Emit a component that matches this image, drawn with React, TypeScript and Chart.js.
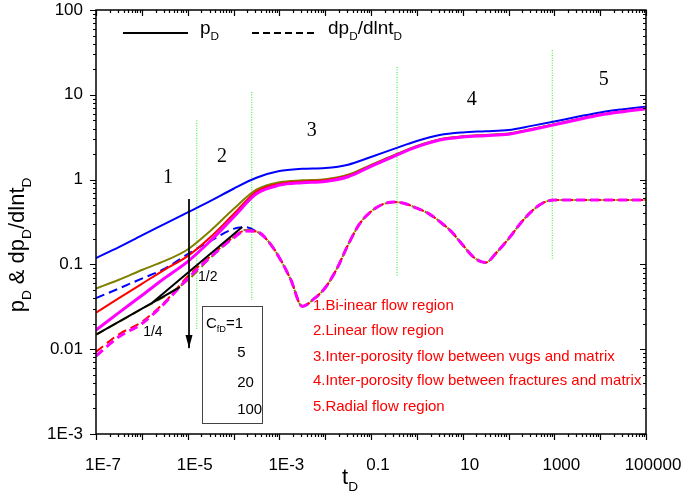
import React, { useEffect, useRef } from 'react';
import { Chart, registerables } from 'chart.js';

Chart.register(...registerables);

// ---------- data ----------
// dimensionless time for the pressure curves (half-decade grid)
const tD = [1e-7, 3.16e-7, 1e-6, 3.16e-6, 1e-5, 3.16e-5, 1e-4, 3.16e-4, 1e-3, 3.16e-3, 1e-2, 3.16e-2, 0.1, 0.316, 1, 3.16, 10, 31.6, 100, 316, 1000, 3162, 1e4, 3.16e4, 1e5];

const pD_C1 = [0.119, 0.16, 0.22, 0.30, 0.41, 0.56, 0.78, 1.05, 1.26, 1.34, 1.37, 1.50, 1.85, 2.30, 2.85, 3.35, 3.60, 3.72, 3.85, 4.30, 4.85, 5.50, 6.20, 6.75, 7.25];
const pD_C5 = [0.052, 0.066, 0.086, 0.11, 0.15, 0.25, 0.45, 0.76, 0.93, 0.98, 1.01, 1.14, 1.49, 1.94, 2.49, 2.99, 3.24, 3.36, 3.49, 3.94, 4.49, 5.14, 5.84, 6.39, 6.89];
const pD_C20 = [0.027, 0.040, 0.059, 0.087, 0.125, 0.21, 0.39, 0.72, 0.89, 0.95, 0.98, 1.11, 1.46, 1.91, 2.46, 2.96, 3.21, 3.33, 3.46, 3.91, 4.46, 5.11, 5.81, 6.36, 6.86];
const pD_C100 = [0.0168, 0.027, 0.043, 0.069, 0.108, 0.19, 0.36, 0.68, 0.86, 0.92, 0.95, 1.08, 1.43, 1.88, 2.43, 2.93, 3.18, 3.30, 3.43, 3.88, 4.43, 5.08, 5.78, 6.33, 6.83];

// dimensionless time for the derivative curves (finer in the humps)
const tDeriv = [1e-7, 3.16e-7, 1e-6, 3.16e-6, 1e-5, 3.16e-5, 1e-4, 1.78e-4, 3.16e-4, 5.62e-4, 1e-3, 1.78e-3, 3.16e-3, 5.62e-3, 1e-2, 1.78e-2, 3.16e-2, 5.62e-2, 0.1, 0.178, 0.316, 0.562, 1, 1.78, 3.16, 5.62, 10, 17.8, 31.6, 56.2, 100, 178, 316, 562, 1000, 3162, 1e4, 3.16e4, 1e5];

const dpD_C1 = [0.040, 0.052, 0.068, 0.089, 0.132, 0.19, 0.262, 0.275, 0.245, 0.19, 0.12, 0.066, 0.032, 0.039, 0.053, 0.088, 0.17, 0.30, 0.42, 0.51, 0.545, 0.52, 0.46, 0.40, 0.32, 0.245, 0.17, 0.12, 0.105, 0.14, 0.20, 0.30, 0.42, 0.53, 0.575, 0.575, 0.575, 0.575, 0.575];
const dpD_C5 = [0.0148, 0.021, 0.030, 0.042, 0.065, 0.12, 0.21, 0.255, 0.245, 0.19, 0.12, 0.066, 0.032, 0.039, 0.053, 0.088, 0.17, 0.30, 0.42, 0.51, 0.545, 0.52, 0.46, 0.40, 0.32, 0.245, 0.17, 0.12, 0.105, 0.14, 0.20, 0.30, 0.42, 0.53, 0.575, 0.575, 0.575, 0.575, 0.575];
const dpD_C20 = [0.0093, 0.015, 0.021, 0.036, 0.072, 0.125, 0.21, 0.25, 0.245, 0.19, 0.12, 0.066, 0.032, 0.039, 0.053, 0.088, 0.17, 0.30, 0.42, 0.51, 0.545, 0.52, 0.46, 0.40, 0.32, 0.245, 0.17, 0.12, 0.105, 0.14, 0.20, 0.30, 0.42, 0.53, 0.575, 0.575, 0.575, 0.575, 0.575];
const dpD_C100 = [0.0083, 0.014, 0.020, 0.035, 0.068, 0.122, 0.205, 0.248, 0.245, 0.19, 0.12, 0.066, 0.032, 0.039, 0.053, 0.088, 0.17, 0.30, 0.42, 0.51, 0.545, 0.52, 0.46, 0.40, 0.32, 0.245, 0.17, 0.12, 0.105, 0.14, 0.20, 0.30, 0.42, 0.53, 0.575, 0.575, 0.575, 0.575, 0.575];

// straight reference lines (slope 1/4 and 1/2)
const quarterT = [1.05e-7, 6.8e-6];
const quarterV = [0.0151, 0.054];
const halfT = [1.66e-6, 1.55e-4];
const halfV = [0.035, 0.276];

// arrow (increasing CfD)
const arrowT = [1.07e-5, 1.07e-5];
const arrowV = [0.59, 0.0103];

// green dotted region separators
const sepT = [1.58e-5, 2.5e-4, 0.37, 900];
const sepTop = [5.0, 10.8, 21.3, 33.7];
const sepBottom = [0.0168, 0.038, 0.071, 0.116];

// region numbers
const regionLabels = ['1', '2', '3', '4', '5'];
const regionT = [3.7e-6, 5.6e-5, 5.1e-3, 15.8, 1.2e4];
const regionV = [1.04, 1.85, 3.73, 8.7, 14.9];

// slope labels
const slopeLabels = ['1/2', '1/4'];
const slopeT = [2.75e-5, 1.74e-6];
const slopeV = [0.071, 0.0159];

// CfD box
const boxT = [2.03e-5, 4.2e-4];
const boxV = [0.00135, 0.0324];
const cfdValues = ['5', '20', '100'];
const cfdT = 1.2e-4;
const cfdV = [0.0090, 0.0040, 0.00192];

// red notes
const notes = [
  '1.Bi-inear flow region',
  '2.Linear flow region',
  '3.Inter-porosity flow between vugs and matrix',
  '4.Inter-porosity flow between fractures and matrix',
  '5.Radial flow region',
];
const noteT = 5.4e-3;
const noteV = [0.0324, 0.0164, 0.0081, 0.0042, 0.00208];

// axes
const xTickValues = [1e-7, 1e-5, 1e-3, 0.1, 10, 1000, 100000];
const xTickLabels = ['1E-7', '1E-5', '1E-3', '0.1', '10', '1000', '100000'];
const yTickValues = [1e-3, 0.01, 0.1, 1, 10, 100];
const yTickLabels = ['1E-3', '0.01', '0.1', '1', '10', '100'];

const SANS = '"Liberation Sans", Arial, sans-serif';
const SERIF = '"Liberation Serif", "Times New Roman", serif';

const BLUE = '#0000ff';
const OLIVE = '#808000';
const RED = '#ff0000';
const MAGENTA = '#ff00ff';
const GREEN = '#22ee22';

const pts = (xs: number[], ys: number[]) => xs.map((x, i) => ({ x, y: ys[i] }));

function drawRich(
  ctx: CanvasRenderingContext2D,
  parts: Array<[string, boolean]>,
  x: number,
  y: number,
  size: number,
  color: string,
  align: 'left' | 'center' = 'left'
) {
  const sub = size * 0.62;
  const widths = parts.map(([s, isSub]) => {
    ctx.font = `${isSub ? sub : size}px ${SANS}`;
    return ctx.measureText(s).width;
  });
  const total = widths.reduce((a, b) => a + b, 0);
  let cx = align === 'center' ? x - total / 2 : x;
  ctx.fillStyle = color;
  ctx.textAlign = 'left';
  ctx.textBaseline = 'alphabetic';
  parts.forEach(([s, isSub], i) => {
    ctx.font = `${isSub ? sub : size}px ${SANS}`;
    ctx.fillText(s, cx, isSub ? y + size * 0.3 : y);
    cx += widths[i];
  });
}

const decorPlugin = {
  id: 'decor',
  afterDatasetsDraw(chart: any) {
    const { ctx, chartArea: a } = chart;
    const xs = chart.scales.x;
    const ys = chart.scales.y;
    const px = (t: number) => xs.getPixelForValue(t);
    const py = (v: number) => ys.getPixelForValue(v);
    ctx.save();

    // arrowhead
    {
      const tx = px(arrowT[1]);
      const ty = py(arrowV[1]);
      ctx.fillStyle = '#000';
      ctx.beginPath();
      ctx.moveTo(tx, ty);
      ctx.lineTo(tx - 3.5, ty - 13);
      ctx.lineTo(tx + 3.5, ty - 13);
      ctx.closePath();
      ctx.fill();
    }

    // region numbers
    ctx.fillStyle = '#000';
    ctx.font = `20px ${SERIF}`;
    ctx.textAlign = 'center';
    ctx.textBaseline = 'middle';
    regionLabels.forEach((s, i) => ctx.fillText(s, px(regionT[i]), py(regionV[i])));

    // slope labels
    ctx.font = `14px ${SANS}`;
    slopeLabels.forEach((s, i) => ctx.fillText(s, px(slopeT[i]), py(slopeV[i])));

    // CfD box
    {
      const x0 = px(boxT[0]);
      const x1 = px(boxT[1]);
      const y0 = py(boxV[1]);
      const y1 = py(boxV[0]);
      ctx.fillStyle = '#fff';
      ctx.fillRect(x0, y0, x1 - x0, y1 - y0);
      ctx.strokeStyle = '#444';
      ctx.lineWidth = 1;
      ctx.strokeRect(Math.round(x0) + 0.5, Math.round(y0) + 0.5, Math.round(x1 - x0), Math.round(y1 - y0));
      drawRich(ctx, [['C', false], ['fD', true], ['=1', false]], px(2.5e-5), py(0.0204) + 5, 15, '#000');
      ctx.fillStyle = '#000';
      ctx.font = `15px ${SANS}`;
      ctx.textAlign = 'left';
      ctx.textBaseline = 'middle';
      cfdValues.forEach((s, i) => ctx.fillText(s, px(cfdT), py(cfdV[i])));
    }

    // red notes
    ctx.fillStyle = RED;
    ctx.font = `15px ${SANS}`;
    ctx.textAlign = 'left';
    ctx.textBaseline = 'middle';
    notes.forEach((s, i) => ctx.fillText(s, px(noteT), py(noteV[i])));

    // legend
    {
      const ly = a.top + 23;
      ctx.strokeStyle = '#000';
      ctx.lineWidth = 2;
      ctx.setLineDash([]);
      ctx.beginPath();
      ctx.moveTo(a.left + 27, ly);
      ctx.lineTo(a.left + 92, ly);
      ctx.stroke();
      drawRich(ctx, [['p', false], ['D', true]], a.left + 104, ly + 1, 19, '#000');
      ctx.setLineDash([7, 4]);
      ctx.beginPath();
      ctx.moveTo(a.left + 156, ly);
      ctx.lineTo(a.left + 222, ly);
      ctx.stroke();
      ctx.setLineDash([]);
      drawRich(ctx, [['dp', false], ['D', true], ['/dlnt', false], ['D', true]], a.left + 232, ly + 1, 19, '#000');
    }

    // frame
    ctx.strokeStyle = '#000';
    ctx.lineWidth = 1.5;
    ctx.strokeRect(a.left, a.top, a.right - a.left, a.bottom - a.top);

    // tick marks
    ctx.lineWidth = 1.2;
    ctx.beginPath();
    for (let d = -7; d <= 5; d++) {
      for (let k = 1; k <= 9; k++) {
        const v = k * Math.pow(10, d);
        if (v > 1e5 * 1.0001) break;
        const X = Math.round(px(v)) + 0.5;
        const len = k === 1 ? 6 : 3;
        ctx.moveTo(X, a.bottom);
        ctx.lineTo(X, a.bottom + len);
        ctx.moveTo(X, a.top);
        ctx.lineTo(X, a.top + len);
      }
    }
    for (let d = -3; d <= 2; d++) {
      for (let k = 1; k <= 9; k++) {
        const v = k * Math.pow(10, d);
        if (v > 100 * 1.0001) break;
        const Y = Math.round(py(v)) + 0.5;
        const len = k === 1 ? 6 : 3;
        ctx.moveTo(a.left, Y);
        ctx.lineTo(a.left - len, Y);
        ctx.moveTo(a.right, Y);
        ctx.lineTo(a.right - len, Y);
      }
    }
    ctx.stroke();

    // axis titles
    drawRich(ctx, [['t', false], ['D', true]], 350, 484, 22, '#000', 'center');
    ctx.translate(24, 245);
    ctx.rotate(-Math.PI / 2);
    drawRich(
      ctx,
      [['p', false], ['D', true], [' & dp', false], ['D', true], ['/dlnt', false], ['D', true]],
      0,
      0,
      22,
      '#000',
      'center'
    );
    ctx.restore();
  },
};

const zeroPad = (s: any) => {
  s.paddingLeft = 0;
  s.paddingRight = 0;
  s.paddingTop = 0;
  s.paddingBottom = 0;
};

export default function App() {
  const ref = useRef<HTMLCanvasElement>(null);

  useEffect(() => {
    const solid = (data: number[], color: string, width: number) => ({
      data: pts(tD, data),
      borderColor: color,
      borderWidth: width,
      pointRadius: 0,
      fill: false,
      cubicInterpolationMode: 'monotone' as const,
    });
    const dashed = (data: number[], color: string, width: number) => ({
      data: pts(tDeriv, data),
      borderColor: color,
      borderWidth: width,
      borderDash: [9, 5],
      pointRadius: 0,
      fill: false,
      cubicInterpolationMode: 'monotone' as const,
    });
    const straight = (xsv: number[], ysv: number[], color: string, width: number, dash: number[] = []) => ({
      data: pts(xsv, ysv),
      borderColor: color,
      borderWidth: width,
      borderDash: dash,
      pointRadius: 0,
      fill: false,
      tension: 0,
    });

    const datasets: any[] = [
      straight(arrowT, arrowV, '#000', 1),
      straight(halfT, halfV, '#000', 2),
      straight(quarterT, quarterV, '#000', 2),
      solid(pD_C100, MAGENTA, 3),
      dashed(dpD_C100, MAGENTA, 3),
      solid(pD_C20, RED, 2),
      dashed(dpD_C20, RED, 2),
      solid(pD_C5, OLIVE, 2),
      dashed(dpD_C5, OLIVE, 2),
      solid(pD_C1, BLUE, 2),
      dashed(dpD_C1, BLUE, 2),
      ...sepT.map((t, i) => straight([t, t], [sepTop[i], sepBottom[i]], GREEN, 1, [1, 1.5])),
    ];

    const chart = new Chart(ref.current as HTMLCanvasElement, {
      type: 'line',
      data: { datasets },
      options: {
        responsive: false,
        animation: false,
        events: [],
        layout: { padding: { left: 0, right: 39, top: 10, bottom: 0 } },
        plugins: { legend: { display: false }, tooltip: { enabled: false } },
        scales: {
          x: {
            type: 'logarithmic',
            position: 'bottom',
            min: 1e-7,
            max: 1e5,
            grid: { display: false, drawTicks: false },
            border: { display: false },
            afterBuildTicks: (s: any) => {
              s.ticks = xTickValues.map((v) => ({ value: v }));
            },
            afterFit: (s: any) => {
              s.height = 63;
              zeroPad(s);
            },
            ticks: {
              autoSkip: false,
              maxRotation: 0,
              minRotation: 0,
              padding: 21,
              labelOffset: 7,
              color: '#000',
              font: { family: SANS, size: 17 },
              callback: (_v: any, i: number) => xTickLabels[i],
            },
          },
          y: {
            type: 'logarithmic',
            position: 'left',
            min: 1e-3,
            max: 100,
            grid: { display: false, drawTicks: false },
            border: { display: false },
            afterBuildTicks: (s: any) => {
              s.ticks = yTickValues.map((v) => ({ value: v }));
            },
            afterFit: (s: any) => {
              s.width = 96;
              zeroPad(s);
            },
            ticks: {
              autoSkip: false,
              padding: 13,
              color: '#000',
              font: { family: SANS, size: 17 },
              callback: (_v: any, i: number) => yTickLabels[i],
            },
          },
        },
      },
      plugins: [decorPlugin],
    } as any);
    return () => chart.destroy();
  }, []);

  return (
    <div style={{ position: 'fixed', left: 0, top: 0, width: 685, height: 497, background: '#fff' }}>
      <canvas ref={ref} width={685} height={497} style={{ display: 'block' }} />
    </div>
  );
}
